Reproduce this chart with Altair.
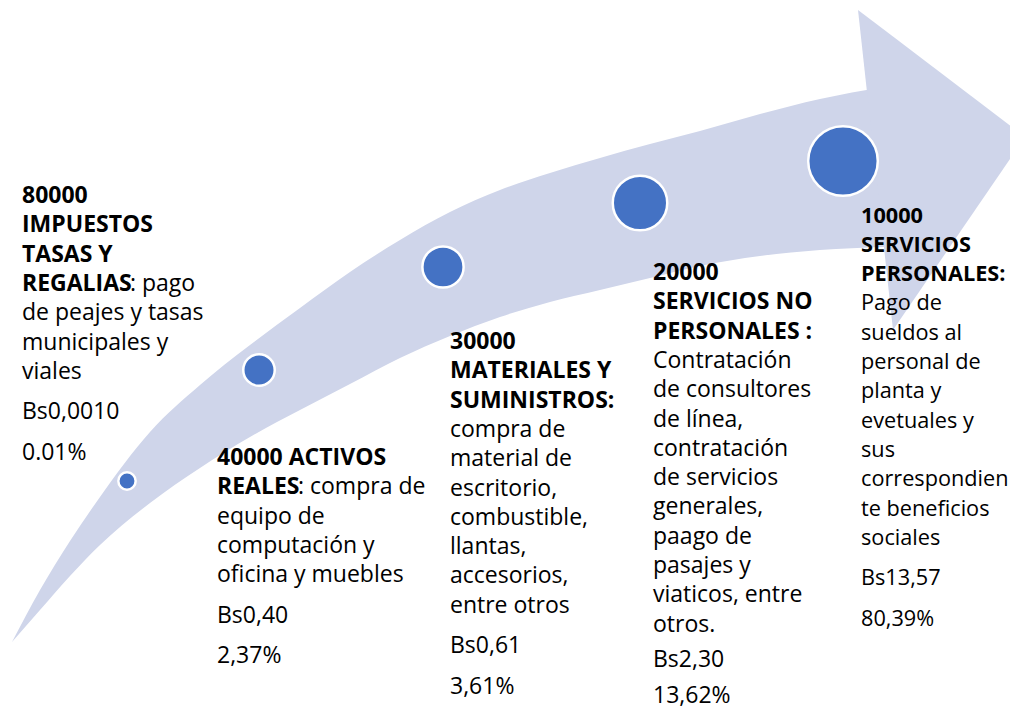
import altair as alt
import pandas as pd

# ---------------- data ----------------
codes = ["80000", "40000", "30000", "20000", "10000"]
amounts = ["Bs0,0010", "Bs0,40", "Bs0,61", "Bs2,30", "Bs13,57"]
shares = ["0.01%", "2,37%", "3,61%", "13,62%", "80,39%"]

# each line: (bold part, regular part)
lines_1 = [("80000", ""), ("IMPUESTOS", ""), ("TASAS Y", ""), ("REGALIAS", ": pago"),
           ("", "de peajes y tasas"), ("", "municipales y"), ("", "viales")]
lines_2 = [("40000 ACTIVOS", ""), ("REALES", ": compra de"), ("", "equipo de"),
           ("", "computación y"), ("", "oficina y muebles")]
lines_3 = [("30000", ""), ("MATERIALES Y", ""), ("SUMINISTROS:", ""), ("", "compra de"),
           ("", "material de"), ("", "escritorio,"), ("", "combustible,"), ("", "llantas,"),
           ("", "accesorios,"), ("", "entre otros")]
lines_4 = [("20000", ""), ("SERVICIOS NO", ""), ("PERSONALES :", ""), ("", "Contratación"),
           ("", "de consultores"), ("", "de línea,"), ("", "contratación"), ("", "de servicios"),
           ("", "generales,"), ("", "paago de"), ("", "pasajes y"), ("", "viaticos, entre"),
           ("", "otros.")]
lines_5 = [("10000", ""), ("SERVICIOS", ""), ("PERSONALES:", ""), ("", "Pago de"),
           ("", "sueldos al"), ("", "personal de"), ("", "planta y"), ("", "evetuales y"),
           ("", "sus"), ("", "correspondien"), ("", "te beneficios"), ("", "sociales")]
blocks = [lines_1, lines_2, lines_3, lines_4, lines_5]

# arrow outline (page pixel coordinates)
shaft_x = [12, 40, 70, 100, 150, 200, 250, 300, 350, 400, 450, 500, 550, 600, 650, 700, 760, 820, 884]
shaft_upper = [642, 590, 541, 497, 432, 385, 345, 308, 272, 240, 212, 190, 173, 158, 144, 131, 114, 99, 87]
shaft_lower = [642, 610, 576, 545, 503, 468, 437, 410, 384, 358, 336, 317, 302, 290, 278, 266, 256, 250, 247]
head_x = [858, 893, 1025]
head_upper = [10, 36.5, 137]
head_lower = [10, 330, 137]

# ---------------- layout ----------------
circle_x = [127, 259, 443, 640, 843]
circle_y = [481, 370, 267, 203, 161]
circle_size = [300, 990, 1700, 2970, 4840]

block_x = [22, 217, 450, 653, 861]
block_first = [203, 465, 349, 280, 222.5]
block_font = [23, 23, 23, 23, 21.7]
bold_offset = {"REGALIAS": 108, "REALES": 81}
LINE = 29.3
GAP = 40.5
BOTTOM = 703  # lowest baseline that still fits inside the page

W, H = 1002, 701
xs = alt.Scale(domain=[8, 8 + W], nice=False, zero=False)
ys = alt.Scale(domain=[8, 8 + H], nice=False, zero=False, reverse=True)

rows = []
for i, lines in enumerate(blocks):
    x0 = block_x[i]
    fs = block_font[i]
    y = block_first[i]
    for j, (b, r) in enumerate(lines):
        y = block_first[i] + j * LINE
        if b:
            rows.append({"x": x0, "y": y, "t": b, "w": "bold", "fs": fs})
        if r:
            off = bold_offset.get(b, 0) if b else 0
            rows.append({"x": x0 + off, "y": y, "t": r, "w": "normal", "fs": fs})
    gap = min(GAP, (BOTTOM - y) / 2)
    rows.append({"x": x0, "y": y + gap, "t": amounts[i], "w": "normal", "fs": fs})
    rows.append({"x": x0, "y": y + 2 * gap, "t": shares[i], "w": "normal", "fs": fs})
text_df = pd.DataFrame(rows)

shaft_df = pd.DataFrame({"x": shaft_x, "y": shaft_upper, "y2": shaft_lower})
head_df = pd.DataFrame({"x": head_x, "y": head_upper, "y2": head_lower})
circ_df = pd.DataFrame({"x": circle_x, "y": circle_y, "s": circle_size, "code": codes})

ARROW = "#CFD5EA"
BLUE = "#4472C4"
FONT = "Open Sans"

shaft = alt.Chart(shaft_df).mark_area(color=ARROW, interpolate="monotone", opacity=1).encode(
    x=alt.X("x:Q", scale=xs, axis=None),
    y=alt.Y("y:Q", scale=ys, axis=None),
    y2="y2:Q",
)
head = alt.Chart(head_df).mark_area(color=ARROW, interpolate="linear", opacity=1).encode(
    x=alt.X("x:Q", scale=xs, axis=None),
    y=alt.Y("y:Q", scale=ys, axis=None),
    y2="y2:Q",
)
circles = alt.Chart(circ_df).mark_circle(color=BLUE, opacity=1, stroke="white", strokeWidth=2.5).encode(
    x=alt.X("x:Q", scale=xs, axis=None),
    y=alt.Y("y:Q", scale=ys, axis=None),
    size=alt.Size("s:Q", scale=None, legend=None),
)


def text_layer(weight):
    return alt.Chart(text_df).transform_filter(alt.datum.w == weight).mark_text(
        align="left", baseline="alphabetic", font=FONT, fontWeight=weight, color="#000000"
    ).encode(
        x=alt.X("x:Q", scale=xs, axis=None),
        y=alt.Y("y:Q", scale=ys, axis=None),
        text="t:N",
        size=alt.Size("fs:Q", scale=None, legend=None),
    )


chart = alt.layer(shaft, head, circles, text_layer("bold"), text_layer("normal")).properties(
    width=W, height=H, padding=0, background="white",
    autosize=alt.AutoSizeParams(type="none"),
).configure_view(stroke=None, strokeWidth=0)

chart.save("out.html", embed_options={"renderer": "svg", "actions": False})
